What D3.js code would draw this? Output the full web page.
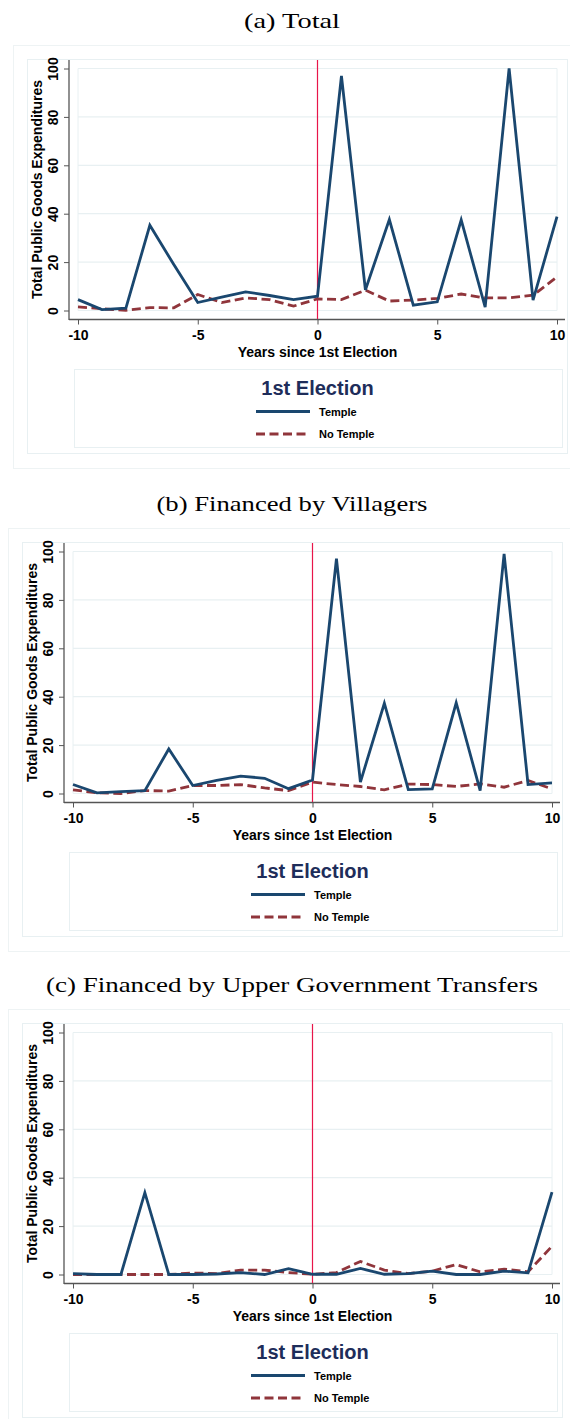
<!DOCTYPE html>
<html>
<head>
<meta charset="utf-8">
<script src="https://cdn.jsdelivr.net/npm/d3@7"></script>
<style>
  body { margin: 0; background: #fff; }
  .tick text, .axislabel { font-family: "Liberation Sans", Arial, sans-serif; font-weight: bold; fill: #000; }
</style>
</head>
<body>
<script>
// years since the first election
var years = [-10, -9, -8, -7, -6, -5, -4, -3, -2, -1, 0, 1, 2, 3, 4, 5, 6, 7, 8, 9, 10];

// (a) total
var totalTemple   = [4.5, 0.4, 1, 35.2, 19, 3.3, 5.5, 7.7, 6.2, 4.5, 5.9, 96.9, 8.5, 37.6, 2.2, 3.6, 37.4, 1.4, 100, 4.3, 38.8];
var totalNoTemple = [1.5, 0.7, 0.1, 1.2, 1.1, 6.6, 3.3, 5.2, 4.5, 1.8, 4.8, 4.5, 8.4, 3.9, 4.3, 5, 6.8, 5.2, 5.2, 6.3, 13.9];

// (b) financed by villagers
var villTemple   = [3.7, 0.3, 0.8, 1.2, 18.4, 3.3, 5.4, 7.2, 6.3, 2, 5.6, 97, 4.7, 37.3, 1.6, 1.9, 37.5, 1.2, 99, 3.7, 4.4];
var villNoTemple = [1.5, 0.3, 0, 1.2, 1, 3.3, 3.3, 3.7, 2.3, 1.2, 4.7, 3.7, 2.9, 1.5, 3.9, 3.7, 2.9, 4, 2.6, 5.4, 1.9];

// (c) financed by upper government transfers
var upperTemple   = [0.4, 0, 0, 33.8, 0, 0, 0.2, 0.8, 0, 2.4, 0.1, 0.1, 2.5, 0.1, 0.4, 1.4, 0, 0, 1.4, 0.7, 34];
var upperNoTemple = [0, 0, 0, 0, 0, 0.6, 0.4, 1.8, 1.8, 0.8, 0.1, 0.8, 5.4, 1.8, 0.4, 1.4, 4.1, 1.1, 2.2, 1.1, 11.7];

var yTicks = [0, 20, 40, 60, 80, 100];
var xTicks = [-10, -5, 0, 5, 10];
var seriesNames = ["Temple", "No Temple"];
var titles = ["(a) Total", "(b) Financed by Villagers", "(c) Financed by Upper Government Transfers"];

var templeColor = "#1a476f",
    noTempleColor = "#90353b",
    lightLine = "#e8f0f2";

// plain hyphen minus like the original, not the unicode minus
var plainNumber = function(d) { return String(d); };

var svg = d3.select("body").append("svg")
  .attr("width", 570)
  .attr("height", 1419);

// one panel: dx = left of outer box, oy = top of outer box
function draw_panel(title, titleWidth, dx, oy, temple, noTemple) {
  var g = svg.append("g");

  var x = d3.scaleLinear().domain([-10, 10]).range([dx + 65, dx + 544]);
  var y = d3.scaleLinear().domain([0, 100]).range([oy + 265.5, oy + 23.5]);

  // title
  g.append("text")
    .attr("x", 292)
    .attr("y", oy - 17)
    .attr("text-anchor", "middle")
    .attr("textLength", titleWidth)
    .attr("lengthAdjust", "spacingAndGlyphs")
    .style("font-family", "'Liberation Serif', 'DejaVu Serif', serif")
    .style("font-size", "21px")
    .text(title);

  // outer box and graph region
  g.append("rect")
    .attr("x", dx + 0.5).attr("y", oy + 0.5)
    .attr("width", 600).attr("height", 423)
    .attr("fill", "none").attr("stroke", "#eef3f4");
  g.append("rect")
    .attr("x", dx + 14.5).attr("y", oy + 14.5)
    .attr("width", 540).attr("height", 394)
    .attr("fill", "none").attr("stroke", lightLine);

  // gridlines
  g.selectAll(".grid")
    .data(yTicks)
    .enter().append("line")
    .attr("x1", x(-10)).attr("x2", x(10))
    .attr("y1", function(d) { return y(d); })
    .attr("y2", function(d) { return y(d); })
    .attr("stroke", lightLine)
    .attr("stroke-width", 1.2);
  g.append("line")
    .attr("x1", x(-10)).attr("x2", x(-10))
    .attr("y1", y(100)).attr("y2", y(0))
    .attr("stroke", lightLine);
  g.append("line")
    .attr("x1", x(10)).attr("x2", x(10))
    .attr("y1", y(100)).attr("y2", y(0))
    .attr("stroke", lightLine);

  // y axis
  var yAxis = g.append("g")
    .attr("transform", "translate(" + (dx + 56) + ",0)")
    .call(d3.axisLeft(y).tickValues(yTicks).tickFormat(plainNumber).tickSize(5).tickSizeOuter(0));
  yAxis.select(".domain").remove();
  yAxis.selectAll("line").attr("stroke", "#555");
  yAxis.selectAll("text")
    .attr("x", null).attr("dy", null)
    .attr("transform", "translate(-16.5,0) rotate(-90)")
    .attr("text-anchor", "middle")
    .attr("dominant-baseline", "central")
    .style("font-size", "14px");
  g.append("line")
    .attr("x1", dx + 56).attr("x2", dx + 56)
    .attr("y1", oy + 15).attr("y2", oy + 275)
    .attr("stroke", "#555").attr("stroke-width", 1.3);

  // x axis
  var xAxis = g.append("g")
    .attr("transform", "translate(0," + (oy + 274.5) + ")")
    .call(d3.axisBottom(x).tickValues(xTicks).tickFormat(plainNumber).tickSize(5).tickSizeOuter(0));
  xAxis.select(".domain").remove();
  xAxis.selectAll("line").attr("stroke", "#555");
  xAxis.selectAll("text")
    .attr("y", 16).attr("dy", "0.35em")
    .style("font-size", "14px");
  g.append("line")
    .attr("x1", dx + 56).attr("x2", dx + 552)
    .attr("y1", oy + 274.5).attr("y2", oy + 274.5)
    .attr("stroke", "#555").attr("stroke-width", 1.3);

  // axis titles
  g.append("text")
    .attr("class", "axislabel")
    .attr("transform", "translate(" + (dx + 24) + "," + (oy + 144.5) + ") rotate(-90)")
    .attr("text-anchor", "middle")
    .attr("dominant-baseline", "central")
    .style("font-size", "14px")
    .text("Total Public Goods Expenditures");
  g.append("text")
    .attr("class", "axislabel")
    .attr("x", dx + 304.5)
    .attr("y", oy + 307)
    .attr("text-anchor", "middle")
    .attr("dominant-baseline", "central")
    .style("font-size", "14px")
    .text("Years since 1st Election");

  // first election marker
  g.append("line")
    .attr("x1", x(0)).attr("x2", x(0))
    .attr("y1", oy + 15).attr("y2", oy + 274)
    .attr("stroke", "#e8154a")
    .attr("stroke-width", 1.2);

  // the two lines
  var line = d3.line()
    .x(function(d, i) { return x(years[i]); })
    .y(function(d) { return y(d); });

  g.append("path")
    .datum(noTemple)
    .attr("d", line)
    .attr("fill", "none")
    .attr("stroke", noTempleColor)
    .attr("stroke-width", 2.8)
    .attr("stroke-dasharray", "9,4.5");
  g.append("path")
    .datum(temple)
    .attr("d", line)
    .attr("fill", "none")
    .attr("stroke", templeColor)
    .attr("stroke-width", 2.8)
    .attr("stroke-linejoin", "miter");

  // legend
  g.append("rect")
    .attr("x", dx + 61.5).attr("y", oy + 324.5)
    .attr("width", 488).attr("height", 78)
    .attr("fill", "none").attr("stroke", lightLine);
  g.append("text")
    .attr("x", dx + 304.5)
    .attr("y", oy + 342.5)
    .attr("text-anchor", "middle")
    .attr("dominant-baseline", "central")
    .style("font-family", "'Liberation Sans', Arial, sans-serif")
    .style("font-weight", "bold")
    .style("font-size", "20px")
    .style("fill", "#1e2d5a")
    .text("1st Election");

  var legendY = [oy + 366.5, oy + 389];
  var legendColor = [templeColor, noTempleColor];
  var legendDash = [null, "9,4.5"];
  for (var i = 0; i < 2; i++) {
    g.append("line")
      .attr("x1", dx + 243).attr("x2", dx + 297)
      .attr("y1", legendY[i]).attr("y2", legendY[i])
      .attr("stroke", legendColor[i])
      .attr("stroke-width", 3)
      .attr("stroke-dasharray", legendDash[i]);
    g.append("text")
      .attr("class", "axislabel")
      .attr("x", dx + 306)
      .attr("y", legendY[i])
      .attr("dominant-baseline", "central")
      .style("font-size", "11px")
      .text(seriesNames[i]);
  }
}

draw_panel(titles[0], 96, 13, 45, totalTemple, totalNoTemple);
draw_panel(titles[1], 271, 8, 528, villTemple, villNoTemple);
draw_panel(titles[2], 492, 8, 1009, upperTemple, upperNoTemple);
</script>
</body>
</html>
